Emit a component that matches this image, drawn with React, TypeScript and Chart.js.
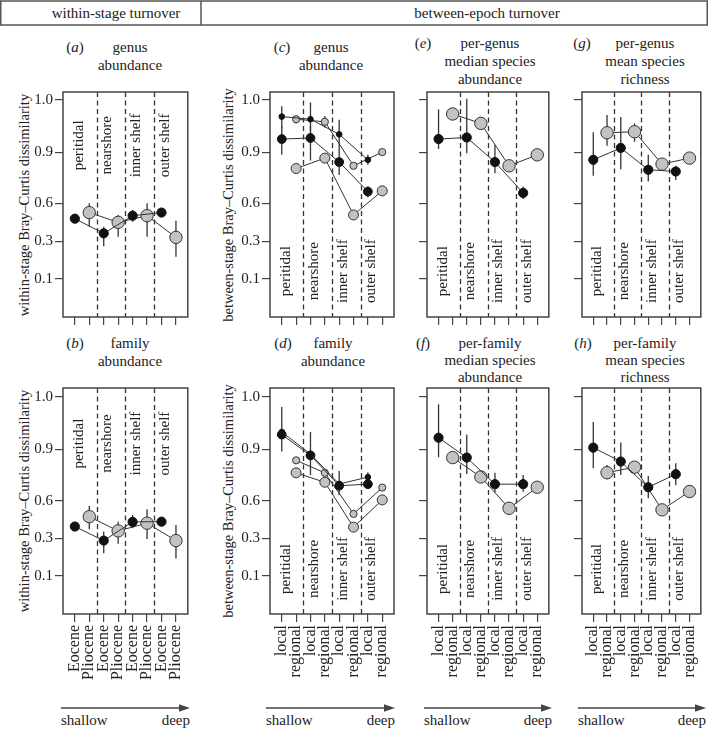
import React, { useEffect, useRef } from "react";
import { Chart, registerables } from "chart.js";

Chart.register(...registerables);

// ---------- axis definitions ----------
const Y_TICK_VALUES = [0.1, 0.3, 0.6, 0.9, 1.0];
const Y_TICK_LABELS = ["0.1", "0.3", "0.6", "0.9", "1.0"];
// stretched dissimilarity axis: relative position of each tick value
const Y_TICK_POS = [0, 1, 2, 3.37, 4.76];

const X_SLOTS = [1, 2, 3, 4, 5, 6, 7, 8];
const EPOCH_LABELS = ["Eocene", "Pliocene", "Eocene", "Pliocene", "Eocene", "Pliocene", "Eocene", "Pliocene"];
const SCALE_LABELS = ["local", "regional", "local", "regional", "local", "regional", "local", "regional"];
const HABITATS = ["peritidal", "nearshore", "inner shelf", "outer shelf"];
const ODD_X = [1, 3, 5, 7];
const EVEN_X = [2, 4, 6, 8];

// ---------- data ----------
// (a) genus abundance, within-stage
const A_EOCENE = [0.479, 0.362, 0.503, 0.528];
const A_EOCENE_LO = [null, 0.273, 0.455, null];
const A_EOCENE_HI = [null, 0.415, 0.549, null];
const A_PLIOCENE = [0.528, 0.45, 0.503, 0.33];
const A_PLIOCENE_LO = [0.415, 0.335, 0.335, 0.217];
const A_PLIOCENE_HI = [0.602, 0.509, 0.602, 0.463];

// (b) family abundance, within-stage
const B_EOCENE = [0.393, 0.287, 0.43, 0.432];
const B_EOCENE_LO = [null, 0.22, 0.38, null];
const B_EOCENE_HI = [null, 0.353, 0.486, null];
const B_PLIOCENE = [0.472, 0.358, 0.42, 0.287];
const B_PLIOCENE_LO = [0.372, 0.27, 0.296, 0.192];
const B_PLIOCENE_HI = [0.558, 0.432, 0.531, 0.406];

// (c) genus abundance, between-epoch (two measures: small and large symbols)
const C_LOCAL_SMALL = [0.968, 0.963, 0.934, 0.855];
const C_LOCAL_SMALL_LO = [0.945, 0.94, 0.9, 0.826];
const C_LOCAL_SMALL_HI = [0.988, 0.995, 0.962, 0.884];
const C_LOCAL_LARGE = [0.925, 0.927, 0.842, 0.67];
const C_LOCAL_LARGE_LO = [0.884, 0.851, 0.767, 0.637];
const C_LOCAL_LARGE_HI = [0.949, 0.95, 0.9, 0.699];
const C_REGIONAL_SMALL = [0.963, 0.958, 0.82, 0.9];
const C_REGIONAL_SMALL_LO = [0.955, 0.947, null, null];
const C_REGIONAL_SMALL_HI = [0.969, 0.969, null, null];
const C_REGIONAL_LARGE = [0.804, 0.865, 0.509, 0.674];

// (d) family abundance, between-epoch
const D_LOCAL_SMALL = [0.933, 0.872, 0.697, 0.737];
const D_LOCAL_SMALL_LO = [0.886, 0.75, 0.633, 0.721];
const D_LOCAL_SMALL_HI = [0.981, 0.933, 0.773, 0.766];
const D_LOCAL_LARGE = [0.928, 0.864, 0.687, 0.696];
const D_REGIONAL_SMALL = [0.835, 0.762, 0.494, 0.676];
const D_REGIONAL_LARGE = [0.762, 0.707, 0.388, 0.604];

// (e) per-genus median species abundance
const E_LOCAL = [0.925, 0.928, 0.842, 0.662];
const E_LOCAL_LO = [0.906, 0.894, 0.777, 0.627];
const E_LOCAL_HI = [0.982, 1.002, 0.914, 0.699];
const E_REGIONAL = [0.973, 0.955, 0.82, 0.884];
const E_REGIONAL_LO = [0.962, 0.945, null, null];
const E_REGIONAL_HI = [0.982, 0.967, null, null];

// (f) per-family median species abundance
const F_LOCAL = [0.922, 0.851, 0.696, 0.696];
const F_LOCAL_LO = [0.853, 0.756, 0.647, 0.652];
const F_LOCAL_HI = [0.986, 0.928, 0.763, 0.75];
const F_REGIONAL = [0.851, 0.738, 0.539, 0.678];

// (g) per-genus mean species richness
const G_LOCAL = [0.855, 0.908, 0.797, 0.787];
const G_LOCAL_LO = [0.762, 0.8, 0.728, 0.738];
const G_LOCAL_HI = [0.938, 0.967, 0.884, 0.82];
const G_REGIONAL = [0.937, 0.939, 0.83, 0.865];
const G_REGIONAL_LO = [0.912, 0.92, null, null];
const G_REGIONAL_HI = [0.971, 0.955, null, null];

// (h) per-family mean species richness
const H_LOCAL = [0.903, 0.828, 0.678, 0.754];
const H_LOCAL_LO = [0.789, 0.75, 0.614, 0.689];
const H_LOCAL_HI = [0.952, 0.913, 0.744, 0.818];
const H_REGIONAL = [0.763, 0.795, 0.526, 0.653];
const H_REGIONAL_LO = [0.725, 0.78, null, null];
const H_REGIONAL_HI = [0.808, 0.824, null, null];

// ---------- helpers ----------
const FONT = "'Liberation Serif', 'Times New Roman', serif";
const INK = "#222";
const FRAME = "#444";

function toAxis(v: number): number {
  const t = Y_TICK_VALUES;
  const p = Y_TICK_POS;
  let i = 0;
  while (i < t.length - 2 && v > t[i + 1]) i++;
  return p[i] + ((v - t[i]) * (p[i + 1] - p[i])) / (t[i + 1] - t[i]);
}

type Series = {
  xs: number[];
  values: number[];
  lo?: (number | null)[];
  hi?: (number | null)[];
  fill: string;
  stroke: string;
  r: number;
};

const black = (xs: number[], values: number[], r: number, lo?: (number | null)[], hi?: (number | null)[]): Series => ({
  xs, values, lo, hi, fill: "#111", stroke: "#111", r,
});
const gray = (xs: number[], values: number[], r: number, lo?: (number | null)[], hi?: (number | null)[]): Series => ({
  xs, values, lo, hi, fill: "#c2c2c2", stroke: "#333", r,
});

type PanelCfg = {
  key: string;
  series: Series[];
  xLabels: string[] | null;
  showY: boolean;
  regionY: number;
  left: number;
  top: number;
  width: number;
  height: number;
  leftW: number;
  bottomH: number;
  padR: number;
  yMax: number;
};

const ROW1 = { top: 82, height: 248, bottomH: 13, yMax: 4.97 };
const ROW2 = { top: 378, height: 322, bottomH: 86, yMax: 5.0 };
const COLS = [
  { left: 0, width: 195, leftW: 63, padR: 4 },
  { left: 205, width: 195, leftW: 65, padR: 4 },
  { left: 400, width: 156, leftW: 27, padR: 4 },
  { left: 553, width: 155, leftW: 29, padR: 1 },
];

const RB = 4.6; // black symbol radius
const RG = 6.2; // grey symbol radius

const PANELS: PanelCfg[] = [
  { key: "a", ...COLS[0], ...ROW1, showY: true, xLabels: null, regionY: 3.55,
    series: [black(ODD_X, A_EOCENE, RB, A_EOCENE_LO, A_EOCENE_HI), gray(EVEN_X, A_PLIOCENE, RG, A_PLIOCENE_LO, A_PLIOCENE_HI)] },
  { key: "c", ...COLS[1], ...ROW1, showY: true, xLabels: null, regionY: 0.2,
    series: [
      black(ODD_X, C_LOCAL_SMALL, 2.8, C_LOCAL_SMALL_LO, C_LOCAL_SMALL_HI),
      black(ODD_X, C_LOCAL_LARGE, 4.4, C_LOCAL_LARGE_LO, C_LOCAL_LARGE_HI),
      gray(EVEN_X, C_REGIONAL_SMALL, 3.6, C_REGIONAL_SMALL_LO, C_REGIONAL_SMALL_HI),
      gray(EVEN_X, C_REGIONAL_LARGE, 5.0),
    ] },
  { key: "e", ...COLS[2], ...ROW1, showY: false, xLabels: null, regionY: 0.2,
    series: [black(ODD_X, E_LOCAL, RB, E_LOCAL_LO, E_LOCAL_HI), gray(EVEN_X, E_REGIONAL, RG, E_REGIONAL_LO, E_REGIONAL_HI)] },
  { key: "g", ...COLS[3], ...ROW1, showY: false, xLabels: null, regionY: 0.2,
    series: [black(ODD_X, G_LOCAL, RB, G_LOCAL_LO, G_LOCAL_HI), gray(EVEN_X, G_REGIONAL, RG, G_REGIONAL_LO, G_REGIONAL_HI)] },
  { key: "b", ...COLS[0], ...ROW2, showY: true, xLabels: EPOCH_LABELS, regionY: 3.52,
    series: [black(ODD_X, B_EOCENE, RB, B_EOCENE_LO, B_EOCENE_HI), gray(EVEN_X, B_PLIOCENE, RG, B_PLIOCENE_LO, B_PLIOCENE_HI)] },
  { key: "d", ...COLS[1], ...ROW2, showY: true, xLabels: SCALE_LABELS, regionY: 0.18,
    series: [
      black(ODD_X, D_LOCAL_SMALL, 2.8, D_LOCAL_SMALL_LO, D_LOCAL_SMALL_HI),
      black(ODD_X, D_LOCAL_LARGE, 4.4),
      gray(EVEN_X, D_REGIONAL_SMALL, 3.6),
      gray(EVEN_X, D_REGIONAL_LARGE, 5.0),
    ] },
  { key: "f", ...COLS[2], ...ROW2, showY: false, xLabels: SCALE_LABELS, regionY: 0.18,
    series: [black(ODD_X, F_LOCAL, RB, F_LOCAL_LO, F_LOCAL_HI), gray(EVEN_X, F_REGIONAL, RG)] },
  { key: "h", ...COLS[3], ...ROW2, showY: false, xLabels: SCALE_LABELS, regionY: 0.18,
    series: [black(ODD_X, H_LOCAL, RB, H_LOCAL_LO, H_LOCAL_HI), gray(EVEN_X, H_REGIONAL, RG, H_REGIONAL_LO, H_REGIONAL_HI)] },
];

const REGION_X = [1.3, 3.25, 5.25, 7.25];
const DIVIDERS = [2.5, 4.5, 6.5];

function makePlugin(cfg: PanelCfg) {
  return {
    id: "panelDecor" + cfg.key,
    beforeDatasetsDraw(chart: any) {
      const { ctx, chartArea, scales } = chart;
      const xs = scales.x;
      const ys = scales.y;
      ctx.save();
      // dashed habitat dividers
      ctx.strokeStyle = "#333";
      ctx.lineWidth = 1.3;
      ctx.setLineDash([5, 3.5]);
      DIVIDERS.forEach((d) => {
        const px = Math.round(xs.getPixelForValue(d)) + 0.5;
        ctx.beginPath();
        ctx.moveTo(px, chartArea.top);
        ctx.lineTo(px, chartArea.bottom);
        ctx.stroke();
      });
      ctx.setLineDash([]);
      // habitat labels
      ctx.fillStyle = INK;
      ctx.font = "15px " + FONT;
      ctx.textAlign = "center";
      ctx.textBaseline = "middle";
      HABITATS.forEach((h, i) => {
        ctx.save();
        ctx.translate(xs.getPixelForValue(REGION_X[i]), ys.getPixelForValue(cfg.regionY));
        ctx.rotate(-Math.PI / 2);
        ctx.fillText(h, 0, 0);
        ctx.restore();
      });
      // error bars
      ctx.strokeStyle = "#333";
      ctx.lineWidth = 1.3;
      chart.data.datasets.forEach((ds: any) => {
        const lo = ds.errLo as (number | null)[] | undefined;
        const hi = ds.errHi as (number | null)[] | undefined;
        if (!lo || !hi) return;
        ds.data.forEach((pt: any, i: number) => {
          if (lo[i] == null || hi[i] == null) return;
          const px = xs.getPixelForValue(pt.x);
          ctx.beginPath();
          ctx.moveTo(px, ys.getPixelForValue(toAxis(lo[i] as number)));
          ctx.lineTo(px, ys.getPixelForValue(toAxis(hi[i] as number)));
          ctx.stroke();
        });
      });
      ctx.restore();
    },
    afterDraw(chart: any) {
      const { ctx, chartArea } = chart;
      ctx.save();
      ctx.strokeStyle = FRAME;
      ctx.lineWidth = 1.5;
      ctx.strokeRect(chartArea.left, chartArea.top, chartArea.right - chartArea.left, chartArea.bottom - chartArea.top);
      ctx.restore();
    },
  };
}

function Panel({ cfg }: { cfg: PanelCfg }) {
  const ref = useRef<HTMLCanvasElement | null>(null);
  useEffect(() => {
    if (!ref.current) return;
    const gridOpts = {
      display: true,
      drawOnChartArea: false,
      drawTicks: true,
      tickLength: 8,
      color: FRAME,
      lineWidth: 1.2,
    };
    const chart = new Chart(ref.current, {
      type: "line",
      data: {
        datasets: cfg.series.map((s) => ({
          data: s.xs.map((x, i) => ({ x, y: toAxis(s.values[i]) })),
          errLo: s.lo,
          errHi: s.hi,
          borderColor: "#333",
          borderWidth: 1,
          pointRadius: s.r,
          pointHoverRadius: s.r,
          pointBackgroundColor: s.fill,
          pointBorderColor: s.stroke,
          pointBorderWidth: 1,
          showLine: true,
          fill: false,
          tension: 0,
          clip: false,
        })) as any,
      },
      options: {
        responsive: false,
        animation: false,
        devicePixelRatio: 1,
        events: [],
        layout: { padding: { top: 10, right: cfg.padR, left: 0, bottom: 0 } },
        plugins: { legend: { display: false }, tooltip: { enabled: false }, title: { display: false } },
        scales: {
          x: {
            type: "linear",
            min: 0.18,
            max: 8.82,
            afterBuildTicks: (s: any) => {
              s.ticks = X_SLOTS.map((v) => ({ value: v }));
            },
            afterFit: (s: any) => {
              s.height = cfg.bottomH;
              s.paddingLeft = 0;
              s.paddingRight = 0;
              s.paddingTop = 0;
              s.paddingBottom = 0;
            },
            grid: gridOpts,
            border: { display: false },
            ticks: {
              display: !!cfg.xLabels,
              autoSkip: false,
              minRotation: 90,
              maxRotation: 90,
              padding: 3,
              color: INK,
              font: { family: FONT, size: 16 },
              callback: (_v: any, i: number) => (cfg.xLabels ? cfg.xLabels[i] : ""),
            },
          },
          y: {
            type: "linear",
            min: -1.02,
            max: cfg.yMax,
            afterBuildTicks: (s: any) => {
              s.ticks = Y_TICK_POS.map((v) => ({ value: v }));
            },
            afterFit: (s: any) => {
              s.width = cfg.leftW;
              s.paddingLeft = 0;
              s.paddingRight = 0;
              s.paddingTop = 0;
              s.paddingBottom = 0;
            },
            grid: gridOpts,
            border: { display: false },
            ticks: {
              display: cfg.showY,
              autoSkip: false,
              padding: 2,
              color: INK,
              font: { family: FONT, size: 15 },
              callback: (_v: any, i: number) => Y_TICK_LABELS[i],
            },
          },
        },
      } as any,
      plugins: [makePlugin(cfg)],
    });
    return () => chart.destroy();
  }, [cfg]);
  return (
    <canvas
      ref={ref}
      width={cfg.width}
      height={cfg.height}
      style={{ position: "absolute", left: cfg.left, top: cfg.top, width: cfg.width, height: cfg.height }}
    />
  );
}

// ---------- text overlay ----------
type Title = { letter: string; lines: string[]; letterX: number; cx: number; y0: number; step: number };
const TITLES: Title[] = [
  { letter: "a", lines: ["genus", "abundance"], letterX: 75, cx: 130, y0: 47, step: 18 },
  { letter: "c", lines: ["genus", "abundance"], letterX: 282, cx: 331, y0: 47, step: 18 },
  { letter: "e", lines: ["per-genus", "median species", "abundance"], letterX: 423, cx: 490, y0: 43, step: 18 },
  { letter: "g", lines: ["per-genus", "mean species", "richness"], letterX: 582, cx: 645, y0: 43, step: 18 },
  { letter: "b", lines: ["family", "abundance"], letterX: 75, cx: 130, y0: 343, step: 18 },
  { letter: "d", lines: ["family", "abundance"], letterX: 283, cx: 333, y0: 343, step: 18 },
  { letter: "f", lines: ["per-family", "median species", "abundance"], letterX: 423, cx: 490, y0: 343, step: 17 },
  { letter: "h", lines: ["per-family", "mean species", "richness"], letterX: 583, cx: 645, y0: 343, step: 17 },
];

const Y_TITLES = [
  { text: "within-stage Bray\u2013Curtis dissimilarity", x: 24, y: 204.5 },
  { text: "between-stage Bray\u2013Curtis dissimilarity", x: 228, y: 204.5 },
  { text: "within-stage Bray\u2013Curtis dissimilarity", x: 24, y: 501 },
  { text: "between-stage Bray\u2013Curtis dissimilarity", x: 228, y: 501 },
];

const ARROWS = [
  { x1: 61, x2: 190 },
  { x1: 266, x2: 395 },
  { x1: 424, x2: 552 },
  { x1: 578, x2: 706 },
];

const centered = (x: number, y: number, extra: React.CSSProperties = {}): React.CSSProperties => ({
  position: "absolute",
  left: x,
  top: y,
  transform: "translate(-50%, -50%)",
  whiteSpace: "nowrap",
  lineHeight: 1,
  ...extra,
});

export default function App() {
  return (
    <div
      style={{
        position: "absolute",
        left: 0,
        top: 0,
        width: 708,
        height: 729,
        overflow: "hidden",
        background: "#fff",
        fontFamily: FONT,
        fontSize: 15,
        color: INK,
      }}
    >
      <svg width={708} height={729} style={{ position: "absolute", left: 0, top: 0 }}>
        <rect x={0.75} y={1} width={706.5} height={24} fill="none" stroke="#555" strokeWidth={1.5} />
        <line x1={201} y1={1} x2={201} y2={25} stroke="#555" strokeWidth={1.5} />
        {ARROWS.map((a, i) => (
          <g key={i}>
            <line x1={a.x1} y1={708} x2={a.x2 - 8} y2={708} stroke="#444" strokeWidth={1.5} />
            <polygon points={`${a.x2},708 ${a.x2 - 11},704.2 ${a.x2 - 11},711.8`} fill="#444" />
          </g>
        ))}
      </svg>

      <div style={centered(116, 13)}>within-stage turnover</div>
      <div style={centered(487, 13)}>between-epoch turnover</div>

      {TITLES.map((t) => (
        <React.Fragment key={t.letter}>
          <div style={centered(t.letterX, t.y0)}>
            (<i>{t.letter}</i>)
          </div>
          {t.lines.map((ln, i) => (
            <div key={i} style={centered(t.cx, t.y0 + i * t.step)}>
              {ln}
            </div>
          ))}
        </React.Fragment>
      ))}

      {Y_TITLES.map((t, i) => (
        <div key={i} style={centered(t.x, t.y, { transform: "translate(-50%, -50%) rotate(-90deg)", fontSize: 14.5 })}>
          {t.text}
        </div>
      ))}

      {ARROWS.map((a, i) => (
        <React.Fragment key={i}>
          <div style={{ position: "absolute", left: a.x1, top: 713, lineHeight: 1, whiteSpace: "nowrap" }}>shallow</div>
          <div style={{ position: "absolute", left: a.x2 - 60, width: 60, textAlign: "right", top: 713, lineHeight: 1 }}>deep</div>
        </React.Fragment>
      ))}

      {PANELS.map((p) => (
        <Panel key={p.key} cfg={p} />
      ))}
    </div>
  );
}
